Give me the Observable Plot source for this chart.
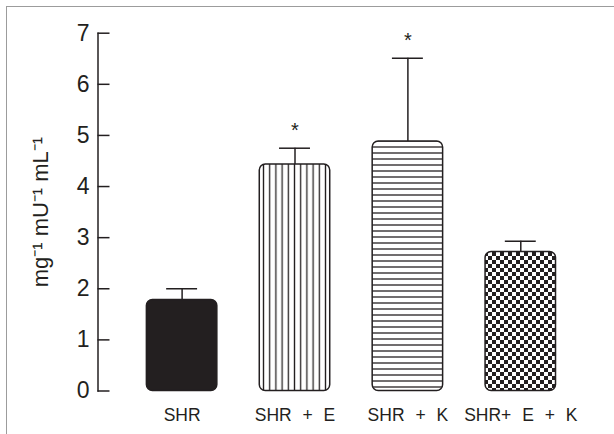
<!DOCTYPE html>
<html><head><meta charset="utf-8">
<script src="https://cdn.jsdelivr.net/npm/d3@7"></script>
<script src="https://cdn.jsdelivr.net/npm/@observablehq/plot@0.6"></script>
<style>
body{margin:0;background:#fff;}
#wrap{position:relative;width:614px;height:434px;overflow:hidden;background:#fff;}
#wrap svg{position:absolute;left:0;top:0;}
#frame{position:absolute;left:6px;top:6px;width:640px;height:460px;border-left:1.3px solid #9c9c9c;border-top:1.3px solid #9c9c9c;box-sizing:border-box;pointer-events:none;}
g[aria-label="x-axis tick label"] text{word-spacing:6px;}
</style></head><body><div id="wrap"></div>
<script>
const groups = ["SHR", "SHR + E", "SHR + K", "SHR+ E + K"];
const means  = [1.78, 4.43, 4.88, 2.72];
const errors = [0.22, 0.32, 1.63, 0.21];
const stars  = ["", "*", "*", ""];
const yTicks = [0, 1, 2, 3, 4, 5, 6, 7];
const yLabel = "mg⁻¹ mU⁻¹ mL⁻¹";

const ink = "#231f20";
const data = groups.map((g, i) => ({group: g, mean: means[i], top: means[i] + errors[i], star: stars[i]}));

const svg = Plot.plot({
  width: 614, height: 434,
  marginTop: 32.7, marginBottom: 43.5, marginLeft: 97.5, marginRight: 9.6,
  style: {fontFamily: "'Liberation Sans', Arial, Helvetica, sans-serif", background: "transparent", color: ink},
  x: {domain: groups, paddingInner: 0.376, paddingOuter: 0.433, round: false, axis: null},
  y: {domain: [0, 7], axis: null},
  color: {domain: groups, range: [ink, "url(#pv)", "url(#ph)", "url(#pc)"]},
  marks: [
    Plot.frame({anchor: "left", stroke: ink, strokeWidth: 1.5}),
    Plot.ruleX(data, {x: "group", y1: "mean", y2: "top", stroke: ink, strokeWidth: 1.5}),
    Plot.tickY(data, {x: "group", y: "top", stroke: ink, strokeWidth: 1.5, inset: 19.75}),
    Plot.barY(data, {x: "group", y: "mean", fill: "group", stroke: ink, strokeWidth: 1.5, rx: 6}),
    Plot.text(data, {x: "group", y: "top", text: "star", dy: -18, fontSize: 20, fill: ink}),
    Plot.axisY({ticks: yTicks, tickSize: 12, dx: 12, tickFormat: () => "", stroke: ink, strokeWidth: 1.5, label: null}),
    Plot.axisY({ticks: yTicks, tickSize: 0, tickPadding: 8.5, tickFormat: d => String(d), fontSize: 23, fill: ink, label: null}),
    Plot.axisX({tickSize: 0, tickPadding: 18, fontSize: 17.5, fill: ink, label: null}),
    Plot.text([yLabel], {frameAnchor: "left", dx: -57, rotate: -90, fontSize: 22, fill: ink, textAnchor: "middle", lineAnchor: "middle"})
  ]
});

const defs = d3.select(svg).insert("defs", ":first-child");
const pv = defs.append("pattern").attr("id", "pv").attr("patternUnits", "userSpaceOnUse").attr("width", 6.2).attr("height", 10);
pv.append("rect").attr("width", 6.2).attr("height", 10).attr("fill", "#fff");
pv.append("line").attr("x1", 3.1).attr("x2", 3.1).attr("y1", 0).attr("y2", 10).attr("stroke", ink).attr("stroke-width", 1.3);
const ph = defs.append("pattern").attr("id", "ph").attr("patternUnits", "userSpaceOnUse").attr("width", 10).attr("height", 6);
ph.append("rect").attr("width", 10).attr("height", 6).attr("fill", "#fff");
ph.append("line").attr("x1", 0).attr("x2", 10).attr("y1", 3).attr("y2", 3).attr("stroke", ink).attr("stroke-width", 1.3);
const pc = defs.append("pattern").attr("id", "pc").attr("patternUnits", "userSpaceOnUse").attr("width", 8).attr("height", 8);
pc.append("rect").attr("width", 8).attr("height", 8).attr("fill", "#fff");
pc.append("rect").attr("width", 4).attr("height", 4).attr("fill", ink);
pc.append("rect").attr("x", 4).attr("y", 4).attr("width", 4).attr("height", 4).attr("fill", ink);

const wrap = document.getElementById("wrap");
wrap.appendChild(svg);
const frame = document.createElement("div");
frame.id = "frame";
wrap.appendChild(frame);
</script>
</body></html>
